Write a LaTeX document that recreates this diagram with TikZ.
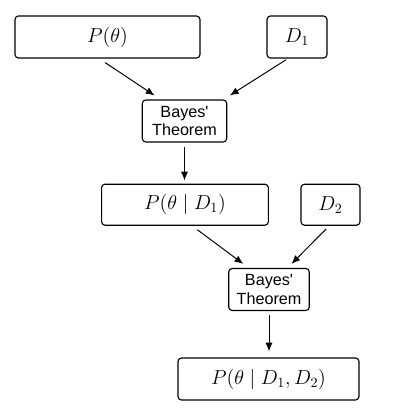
\documentclass[tikz,border=0pt]{standalone}
\usepackage{fontspec}
\setsansfont{Liberation Sans}[Ligatures=TeXOff]
\usetikzlibrary{arrows.meta}
\tikzset{
    box/.style={draw, line width=0.8pt, rounded corners=2.5pt, minimum height=1.05cm, inner sep=2pt, font=\Large},
    bayes/.style={draw, line width=0.8pt, rounded corners=2.5pt, minimum height=1.05cm, inner sep=2pt, align=center, font=\sffamily\fontsize{11.5}{13}\selectfont},
    arr/.style={-{Latex[length=2.2mm,width=1.8mm]}, line width=0.7pt}
}
\begin{document}
\begin{tikzpicture}[x=0.025cm, y=-0.025cm]
    \useasboundingbox (0,0) rectangle (400,410);
    \node[box, minimum width=4.625cm] (prior) at (107.5,37) {$P(\theta)$};
    \node[box, minimum width=1.5cm] (data1) at (297,37) {$D_1$};
    \node[bayes, minimum width=2.11cm] (bayes1) at (184.5,121) {Bayes'\\Theorem};
    \node[box, minimum width=4.17cm, minimum height=1.025cm] (post1) at (185,204.7) {$P(\theta\mid D_1)$};
    \node[box, minimum width=1.475cm, minimum height=1.025cm] (data2) at (330.5,204.7) {$D_2$};
    \node[bayes, minimum width=2.015cm] (bayes2) at (269,289.5) {Bayes'\\Theorem};
    \node[box, minimum width=4.525cm] (post2) at (268.5,379) {$P(\theta\mid D_1, D_2)$};
	\draw[arr] ([xshift=-0.06cm, yshift=-0.1cm]prior.south) -- ([xshift=0.32cm, yshift=0.1cm]bayes1.north west);
	\draw[arr] ([xshift=-0.275cm, yshift=-0.03cm]data1.south) -- ([xshift=0.065cm, yshift=0.1cm]bayes1.north east);
	\draw[arr, shorten <=0.1cm, shorten >=0.08cm] (bayes1.south) -- (bayes1.south |- post1.north);
	\draw[arr] ([xshift=0.31cm, yshift=-0.1cm]post1.south) -- ([xshift=0.38cm, yshift=0.1cm]bayes2.north west);
	\draw[arr] ([xshift=-0.11cm, yshift=-0.08cm]data2.south) -- ([xshift=-0.46cm, yshift=0.1cm]bayes2.north east);
	\draw[arr, shorten <=0.1cm, shorten >=0.15cm] (bayes2.south) -- (bayes2.south |- post2.north);
\end{tikzpicture}
\end{document}
